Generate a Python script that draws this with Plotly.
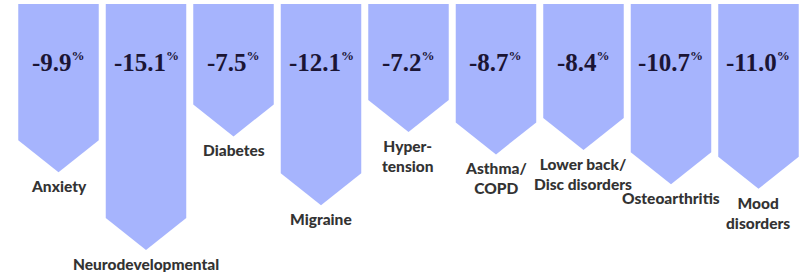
import plotly.graph_objects as go

categories = ["Anxiety", "Neurodevelopmental", "Diabetes", "Migraine", "Hyper-<br>tension",
              "Asthma/<br>COPD", "Lower back/<br>Disc disorders", "Osteoarthritis", "Mood<br>disorders"]
changes = [-9.9, -15.1, -7.5, -12.1, -7.2, -8.7, -8.4, -10.7, -11.0]
value_labels = ["-9.9", "-15.1", "-7.5", "-12.1", "-7.2", "-8.7", "-8.4", "-10.7", "-11.0"]

FILL = "#a6b4fd"
TOP = 1.37      # arrows start a little above zero
HEAD = 2.14     # arrow head height in data units
HALF_W = 0.46   # half width in category units

fig = go.Figure()
for i, v in enumerate(changes):
    xs = [i - HALF_W, i + HALF_W, i + HALF_W, i, i - HALF_W, i - HALF_W]
    ys = [TOP, TOP, v + HEAD, v, v + HEAD, TOP]
    fig.add_trace(go.Scatter(x=xs, y=ys, mode="lines", fill="toself", fillcolor=FILL,
                             line=dict(width=0, color=FILL), hoverinfo="skip", showlegend=False))
    fig.add_annotation(x=i, y=0.772, yref="paper",
                       text=value_labels[i] + "<sup><span style='font-size:13px'>%</span></sup>",
                       showarrow=False, xanchor="center", yanchor="middle",
                       font=dict(family="Liberation Serif", size=25, color="#1b1535", weight="bold"))
    fig.add_annotation(x=i, y=v, text=categories[i], showarrow=False, xanchor="center",
                       yanchor="top", yshift=-3,
                       font=dict(family="Lato", size=15.5, color="#333333", weight=900))

fig.update_layout(
    width=806, height=272, margin=dict(l=0, r=0, t=0, b=0),
    paper_bgcolor="white", plot_bgcolor="white",
    xaxis=dict(range=[-0.6686, 8.543], visible=False, fixedrange=True),
    yaxis=dict(range=[-16.57, 1.633], visible=False, fixedrange=True),
)
fig.write_html("out.html", config={"displayModeBar": False},
               post_script="document.body.style.margin='0';")
